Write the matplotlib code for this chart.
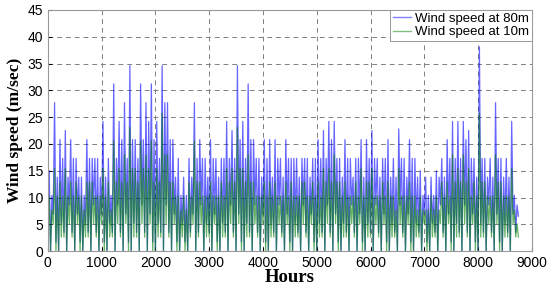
import numpy as np
import matplotlib
matplotlib.use("Agg")
import matplotlib.pyplot as plt

# wind speed every 25 hours (troughs and peaks of the record)
horas = np.arange(0, 8760, 25)

v80 = [3.5, 15, 0, 10.4,  6.9, 27.7, 1.7, 13.8,  0, 20.8, 5.2, 17.3,  3.5, 22.5, 0, 13.8,
       8.6, 20.8, 3.5, 17.3,  0, 17.3, 6.9, 13.8,  1.7, 13.8, 0, 10.4,  5.2, 20.8, 3.5, 17.3,
       0, 17.3, 8.6, 17.3,  3.5, 17.3, 0, 13.8,  6.9, 24.2, 1.7, 13.8,  0, 17.3, 5.2, 10.4,
       3.5, 31.2, 0, 17.3,  8.6, 24.2, 3.5, 20.8,  0, 27.7, 6.9, 17.3,  1.7, 34.6, 0, 20.8,
       5.2, 20.8, 3.5, 17.3,  0, 31.2, 8.6, 20.8,  3.5, 27.7, 0, 24.2,  6.9, 31.2, 1.7, 20.8,
       0, 24.2, 5.2, 17.3,  3.5, 34.6, 0, 27.7,  8.6, 27.7, 3.5, 20.8,  0, 20.8, 6.9, 13.8,
       1.7, 17.3, 0, 10.4,  5.2, 13.8, 1.7, 10.4,  0, 17.3, 3.5, 13.8,  6.9, 27.7, 0, 17.3,
       3.5, 20.8, 8.6, 17.3,  0, 17.3, 5.2, 13.8,  3.5, 20.8, 0, 17.3,  6.9, 17.3, 1.7, 13.8,
       0, 17.3, 5.2, 17.3,  3.5, 24.2, 0, 17.3,  8.6, 22.5, 3.5, 17.3,  0, 34.6, 6.9, 20.8,
       1.7, 24.2, 0, 17.3,  5.2, 31.2, 3.5, 20.8,  0, 20.8, 8.6, 17.3,  3.5, 17.3, 0, 13.8,
       6.9, 20.8, 1.7, 17.3,  0, 20.8, 5.2, 13.8,  3.5, 20.8, 0, 17.3,  8.6, 17.3, 3.5, 13.8,
       0, 20.8, 6.9, 17.3,  1.7, 17.3, 0, 17.3,  5.2, 17.3, 3.5, 13.8,  0, 17.3, 8.6, 17.3,
       3.5, 17.3, 0, 13.8,  6.9, 17.3, 1.7, 17.3,  0, 20.8, 5.2, 17.3,  3.5, 22.5, 0, 17.3,
       8.6, 24.2, 3.5, 20.8,  0, 24.2, 6.9, 17.3,  1.7, 17.3, 0, 13.8,  5.2, 20.8, 3.5, 17.3,
       0, 17.3, 8.6, 13.8,  3.5, 17.3, 0, 17.3,  6.9, 20.8, 1.7, 13.8,  0, 20.8, 5.2, 17.3,
       3.5, 22.5, 0, 17.3,  8.6, 17.3, 3.5, 13.8,  0, 17.3, 6.9, 17.3,  1.7, 20.8, 0, 13.8,
       5.2, 17.3, 3.5, 13.8,  0, 22.8, 8.6, 17.3,  3.5, 17.3, 0, 13.8,  6.9, 20.8, 1.7, 17.3,
       0, 17.3, 5.2, 13.8,  3.5, 15, 0, 10.4,  6.9, 13.8, 1.7, 10.4,  0, 13.8, 5.2, 10.4,
       3.5, 15, 0, 13.8,  8.6, 17.3, 3.5, 13.8,  0, 20.8, 6.9, 17.3,  1.7, 24.2, 0, 17.3,
       5.2, 24.2, 3.5, 17.3,  0, 24.2, 8.6, 20.8,  3.5, 22.5, 0, 17.3,  6.9, 17.3, 1.7, 13.8,
       0, 38.1, 5.2, 17.3,  3.5, 17.3, 0, 13.8,  8.6, 17.3, 3.5, 13.8,  0, 27.7, 6.9, 17.3,
       1.7, 17.3, 0, 13.8,  5.2, 17.3, 3.5, 13.8,  0, 24.2, 6.9, 10.4,  3.5, 8.6, 6.5]

v10 = [2.6, 10.3, 0, 7.7,  5.1, 15.4, 0, 10.3,  0, 12.9, 2.6, 10.3,  2.6, 15.4, 0, 10.3,
       5.1, 12.9, 2.6, 10.3,  0, 12.9, 5.1, 10.3,  0, 10.3, 0, 7.7,  2.6, 12.9, 2.6, 12.9,
       0, 12.9, 5.1, 10.3,  2.6, 10.3, 0, 10.3,  5.1, 15.4, 0, 10.3,  0, 12.9, 2.6, 7.7,
       2.6, 20.6, 0, 12.9,  5.1, 15.4, 2.6, 12.9,  0, 18, 5.1, 12.9,  0, 23.1, 0, 15.4,
       2.6, 15.4, 2.6, 12.9,  0, 20.6, 5.1, 15.4,  2.6, 18, 0, 15.4,  5.1, 20.6, 0, 12.9,
       0, 15.4, 2.6, 12.9,  2.6, 25.7, 0, 18,  5.1, 18, 2.6, 12.9,  0, 12.9, 5.1, 10.3,
       0, 10.3, 0, 7.7,  2.6, 10.3, 0, 7.7,  0, 12.9, 2.6, 10.3,  5.1, 20.6, 0, 12.9,
       2.6, 12.9, 5.1, 10.3,  0, 10.3, 2.6, 10.3,  2.6, 12.9, 0, 10.3,  5.1, 10.3, 0, 10.3,
       0, 12.9, 2.6, 10.3,  2.6, 15.4, 0, 12.9,  5.1, 15.4, 2.6, 12.9,  0, 23.1, 5.1, 15.4,
       0, 15.4, 0, 12.9,  2.6, 18, 2.6, 12.9,  0, 12.9, 5.1, 10.3,  2.6, 10.3, 0, 10.3,
       5.1, 12.9, 0, 10.3,  0, 12.9, 2.6, 10.3,  2.6, 12.9, 0, 10.3,  5.1, 10.3, 2.6, 10.3,
       0, 12.9, 5.1, 10.3,  0, 12.9, 0, 10.3,  2.6, 10.3, 2.6, 10.3,  0, 12.9, 5.1, 12.9,
       2.6, 10.3, 0, 10.3,  5.1, 12.9, 0, 10.3,  0, 12.9, 2.6, 10.3,  2.6, 15.4, 0, 12.9,
       5.1, 15.4, 2.6, 12.9,  0, 18, 5.1, 12.9,  0, 12.9, 0, 10.3,  2.6, 12.9, 2.6, 10.3,
       0, 10.3, 5.1, 10.3,  2.6, 12.9, 0, 10.3,  5.1, 15.4, 0, 10.3,  0, 12.9, 2.6, 12.9,
       2.6, 15.4, 0, 10.3,  5.1, 10.3, 2.6, 10.3,  0, 12.9, 5.1, 10.3,  0, 12.9, 0, 10.3,
       2.6, 10.3, 2.6, 7.7,  0, 15.4, 5.1, 10.3,  2.6, 10.3, 0, 10.3,  5.1, 12.9, 0, 10.3,
       0, 10.3, 2.6, 7.7,  2.6, 10.3, 0, 7.7,  5.1, 7.7, 0, 7.7,  0, 10.3, 2.6, 7.7,
       2.6, 10.3, 0, 7.7,  5.1, 12.9, 2.6, 10.3,  0, 12.9, 5.1, 10.3,  0, 18, 0, 12.9,
       2.6, 15.4, 2.6, 12.9,  0, 18, 5.1, 12.9,  2.6, 15.4, 0, 10.3,  5.1, 12.9, 0, 10.3,
       0, 25.7, 2.6, 12.9,  2.6, 12.9, 0, 10.3,  5.1, 10.3, 2.6, 10.3,  0, 18, 5.1, 12.9,
       0, 12.9, 0, 10.3,  2.6, 10.3, 2.6, 10.3,  0, 15.4, 5.1, 7.7,  2.6, 5.1, 2.6]

fig = plt.figure(figsize=(5.5, 2.85), dpi=100)
ax = fig.add_axes([0.087, 0.119, 0.88, 0.846])

ax.plot(horas, v80, color="blue", alpha=0.6, lw=0.9, label="Wind speed at 80m")
ax.plot(horas, v10, color="green", alpha=0.6, lw=0.9, label="Wind speed at 10m")

ax.set_xlim(0, 9000)
ax.set_ylim(0, 45)
ax.set_xticks(np.arange(0, 9001, 1000))
ax.set_yticks(np.arange(0, 46, 5))
ax.tick_params(direction="in", labelsize=10, length=3)
for lab in ax.get_xticklabels() + ax.get_yticklabels():
    lab.set_family("Liberation Sans")
ax.grid(True, linestyle=(0, (5, 4)), color="#808080", lw=0.7)
for s in ax.spines.values():
    s.set_color("#999999")

ax.set_xlabel("Hours", family="Liberation Serif", fontweight="bold", fontsize=13.5, labelpad=-1)
ax.set_ylabel("Wind speed (m/sec)", family="Liberation Serif", fontweight="bold", fontsize=12.5, labelpad=3)

leg = ax.legend(loc="upper right", prop={"family": "Liberation Sans", "size": 9.5},
                fancybox=False, borderaxespad=0, handlelength=1.4, handletextpad=0.3,
                borderpad=0.2, labelspacing=0.1, framealpha=1)
leg.get_frame().set_edgecolor("#999999")
leg.get_frame().set_linewidth(0.7)
for l in leg.get_lines():
    l.set_linewidth(1.0)
    l.set_alpha(0.5)

fig.savefig("out.png", dpi=100)
